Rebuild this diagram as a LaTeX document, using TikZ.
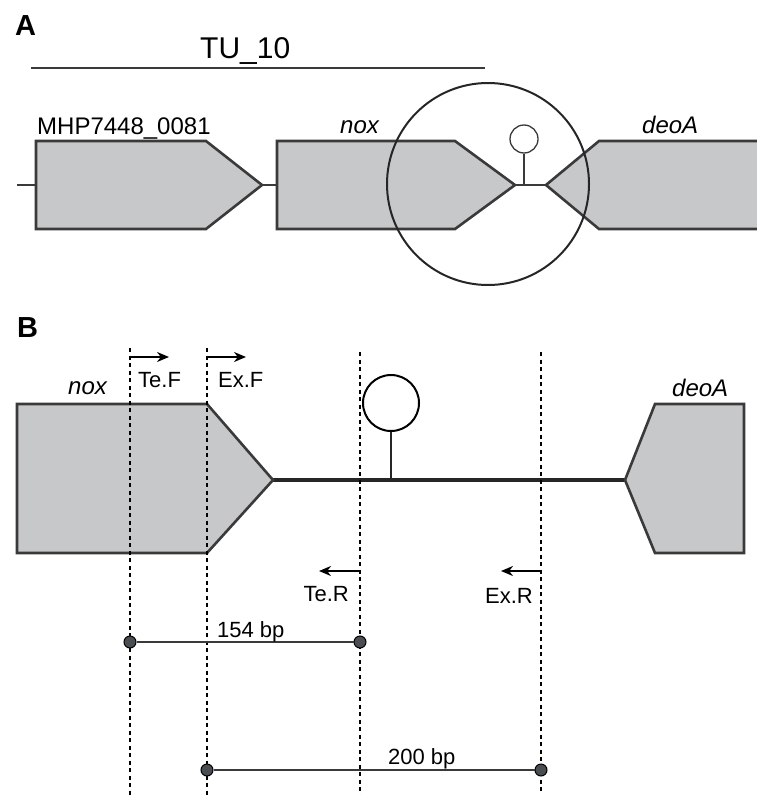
\documentclass[tikz,border=0pt]{standalone}
\usepackage{fontspec}
\setmainfont{Liberation Sans}
\usetikzlibrary{positioning, calc, arrows.meta}
\definecolor{ink}{HTML}{3A3A3A}
\definecolor{genefill}{HTML}{C7C8CA}
\definecolor{dotc}{HTML}{4A4D52}
\newcommand{\PanelF}{\fontsize{29}{32}\selectfont\bfseries}
\newcommand{\TitleF}{\fontsize{30}{34}\selectfont}
\newcommand{\GeneF}{\fontsize{24}{28}\selectfont}
\newcommand{\PrimerF}{\fontsize{22}{25}\selectfont}

\tikzset{
  gene/.style={draw=ink, fill=genefill, line width=2.6pt, line join=miter},
  spacer/.style={draw=ink, line width=2pt},
  backbone/.style={draw=black!85, line width=3.3pt},
  guide/.style={draw=black, line width=2.3pt, dash pattern=on 4pt off 3.5pt},
  primer/.style={draw=black, line width=2.6pt, -{Stealth[length=12pt,width=10pt]}},
  span/.style={draw=ink, line width=2.3pt},
  endpt/.style={circle, fill=dotc, draw=black, line width=1pt, inner sep=0pt, minimum size=12pt},
  lbl/.style={inner sep=0pt, anchor=base west},
  lblr/.style={inner sep=0pt, anchor=base east},
}

\begin{document}
\begin{tikzpicture}[x=1pt, y=-1pt]
  \useasboundingbox (0,0) rectangle (756,795);

  % ---- panel A: operon overview
  \node[lbl, font=\PanelF] (panA) at (15,35) {A};
  \node[lbl, font=\TitleF] (tu) at (200,58) {TU\_10};
  \coordinate (tuL) at (31,68);
  \coordinate (tuR) at (485,68);
  \draw[ink, line width=1.6pt] (tuL) -- (tuR);

  \coordinate (stubA) at (17,185);
  \coordinate (mhpW) at (36,185);
  \coordinate (mhpE) at (262,185);
  \coordinate (noxAW) at (277,185);
  \coordinate (noxAE) at (515,185);
  \coordinate (deoAW) at (546,185);
  \coordinate (hpA) at (524,185);

  \draw[spacer] (stubA) -- (mhpW);
  \draw[spacer] (mhpE) -- (noxAW);
  \draw[spacer] (noxAE) -- (deoAW);
  \draw[gene] (36,141) -- (206,141) -- (mhpE) -- (206,229) -- (36,229) -- cycle;
  \draw[gene] (277,141) -- (455,141) -- (noxAE) -- (455,229) -- (277,229) -- cycle;
  \draw[gene] (deoAW) -- (599,141) -- (770,141) -- (770,229) -- (599,229) -- cycle;

  \node[lbl, font=\GeneF] (mhpL) at (37,134) {MHP7448\_0081};
  \node[lbl, font=\GeneF\itshape] (noxAL) at (340,133) {nox};
  \node[lbl, font=\GeneF\itshape] (deoAL) at (642,133) {deoA};

  % terminator hairpin
  \node[circle, draw=ink, line width=1.3pt, minimum size=28pt, inner sep=0pt] (loopA) at (524,139) {};
  \draw[ink, line width=1.5pt] (hpA) -- (loopA.south);

  % zoom circle
  \node[circle, draw=black!85, line width=2pt, minimum size=202pt, inner sep=0pt] (zoomA) at (488,184) {};

  % ---- panel B: terminator region
  \node[lbl, font=\PanelF] (panB) at (17,337) {B};

  \coordinate (noxBE) at (273,480);
  \coordinate (deoBW) at (625,480);
  \draw[backbone] (noxBE) -- (deoBW);
  \draw[gene] (17,404) -- (207,404) -- (noxBE) -- (207,553) -- (17,553) -- cycle;
  \draw[gene] (deoBW) -- (655,404) -- (744,404) -- (744,553) -- (655,553) -- cycle;

  \node[lbl, font=\GeneF\itshape] (noxBL) at (68,394) {nox};
  \node[lbl, font=\GeneF\itshape] (deoBL) at (672,396) {deoA};

  \coordinate (hpB) at (391,480);
  \node[circle, draw=black, line width=2pt, minimum size=56pt, inner sep=0pt] (loopB) at (391,403) {};
  \draw[black!85, line width=2pt] (hpB) -- (loopB.south);

  % primer guides
  \foreach \gx/\gy/\nm in {130/348/tf, 207/348/ef, 360/352/tr, 541/352/er} {
    \coordinate (\nm top) at (\gx,\gy);
    \coordinate (\nm bot) at (\gx,795);
    \draw[guide] (\nm top) -- (\nm bot);
  }

  % primers
  \coordinate (tfA) at (130,357); \coordinate (tfB) at (169,357);
  \coordinate (efA) at (207,357); \coordinate (efB) at (246,357);
  \coordinate (trA) at (360,571); \coordinate (trB) at (319,571);
  \coordinate (erA) at (541,571); \coordinate (erB) at (501,571);
  \draw[primer] (tfA) -- (tfB);
  \draw[primer] (efA) -- (efB);
  \draw[primer] (trA) -- (trB);
  \draw[primer] (erA) -- (erB);
  \node[lbl, font=\PrimerF] (tfL) at (138,387) {Te.F};
  \node[lbl, font=\PrimerF] (efL) at (218,387) {Ex.F};
  \node[lblr, font=\PrimerF] (trL) at (349,601) {Te.R};
  \node[lblr, font=\PrimerF] (erL) at (533,603) {Ex.R};

  % amplicon spans
  \node[endpt] (s1a) at (130,642) {};
  \node[endpt] (s1b) at (360,642) {};
  \node[endpt] (s2a) at (207,770) {};
  \node[endpt] (s2b) at (541,770) {};
  \draw[span] (s1a) -- (s1b);
  \draw[span] (s2a) -- (s2b);
  \node[lbl, font=\PrimerF] (s1L) at (217,637) {154 bp};
  \node[lbl, font=\PrimerF] (s2L) at (388,764) {200 bp};
\end{tikzpicture}
\end{document}
